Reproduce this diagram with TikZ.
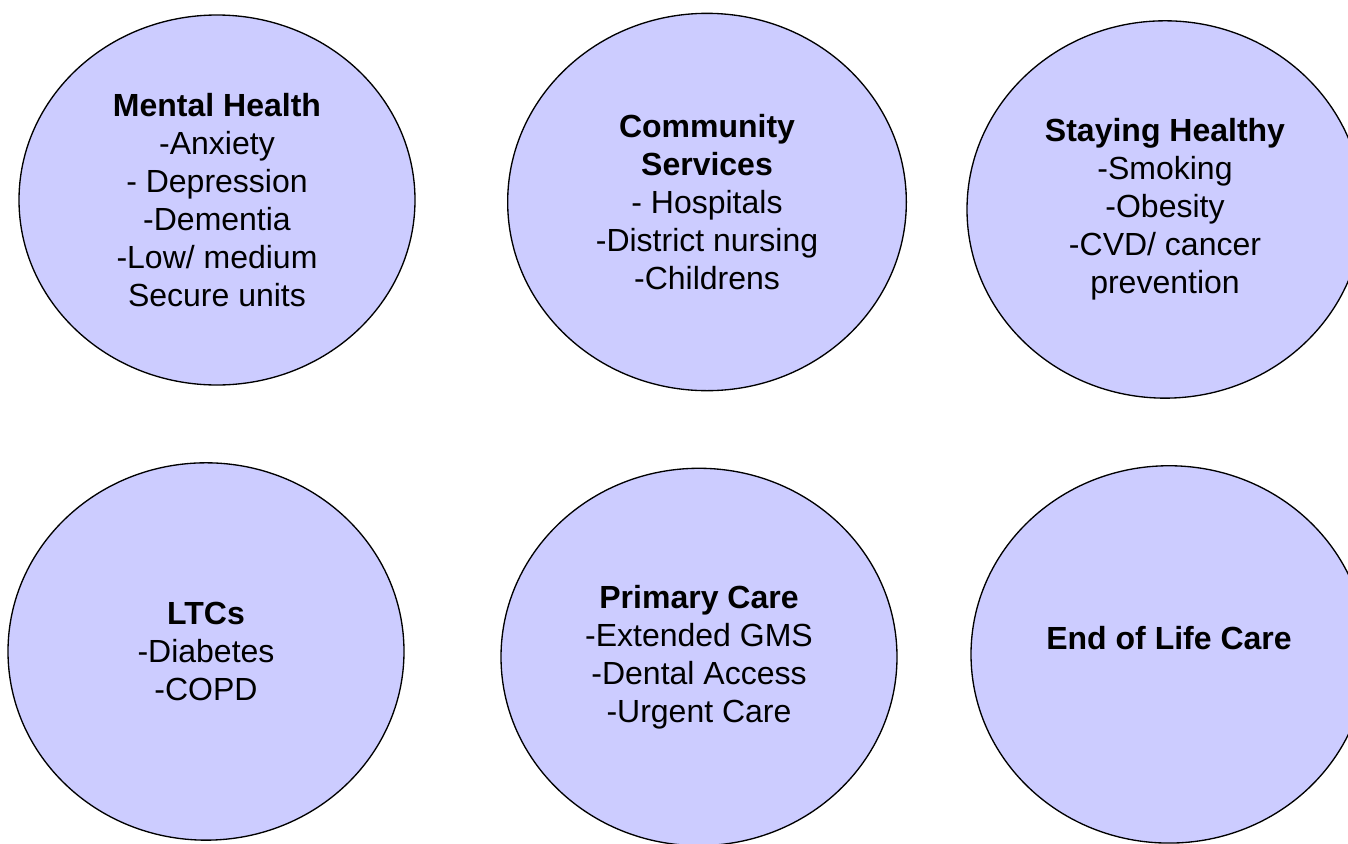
\documentclass[tikz,border=0pt]{standalone}
\usepackage{fontspec}
\setmainfont{Liberation Sans}
\usetikzlibrary{shapes.geometric,positioning}
\definecolor{bubble}{HTML}{CCCCFF}
\tikzset{
  topictext/.style={align=center, font=\fontsize{24}{28.5}\selectfont},
  topic/.style={ellipse, draw=black, fill=bubble, line width=1pt, inner sep=0pt,
    minimum width=297pt, minimum height=283pt, topictext}
}
\begin{document}
\begin{tikzpicture}[x=0.75pt, y=-0.75pt, node distance=367.5pt]
\useasboundingbox (0,0) rectangle (1348,843);

% Верхний ряд
\node (mental) [topic, minimum height=277.5pt] at (217,200) {\textbf{Mental Health}\\-Anxiety\\- Depression\\-Dementia\\-Low/ medium\\Secure units};
\node (community) [topic, minimum width=299pt, right of=mental, yshift=-1.5pt] {\textbf{Community}\\\textbf{Services}\\- Hospitals\\-District nursing\\-Childrens};
\node (staying) [topic, right of=community, xshift=-24pt, yshift=-5.6pt] {\textbf{Staying Healthy}\\-Smoking\\-Obesity\\-CVD/ cancer\\prevention};

% Нижний ряд
\node (ltc) [topic, below of=mental, xshift=-8.25pt, yshift=28.9pt] {\textbf{LTCs}\\-Diabetes\\-COPD};
\node (primary) [topic, right of=ltc, xshift=2.25pt, yshift=-4.1pt] {\textbf{Primary Care}\\-Extended GMS\\-Dental Access\\-Urgent Care};
\node (eolc) [topic, right of=primary, xshift=-15pt, yshift=1.9pt] {};
\node (eolc-title) [topictext] at ([yshift=12.4pt]eolc.center) {\textbf{End of Life Care}};

\end{tikzpicture}
\end{document}
